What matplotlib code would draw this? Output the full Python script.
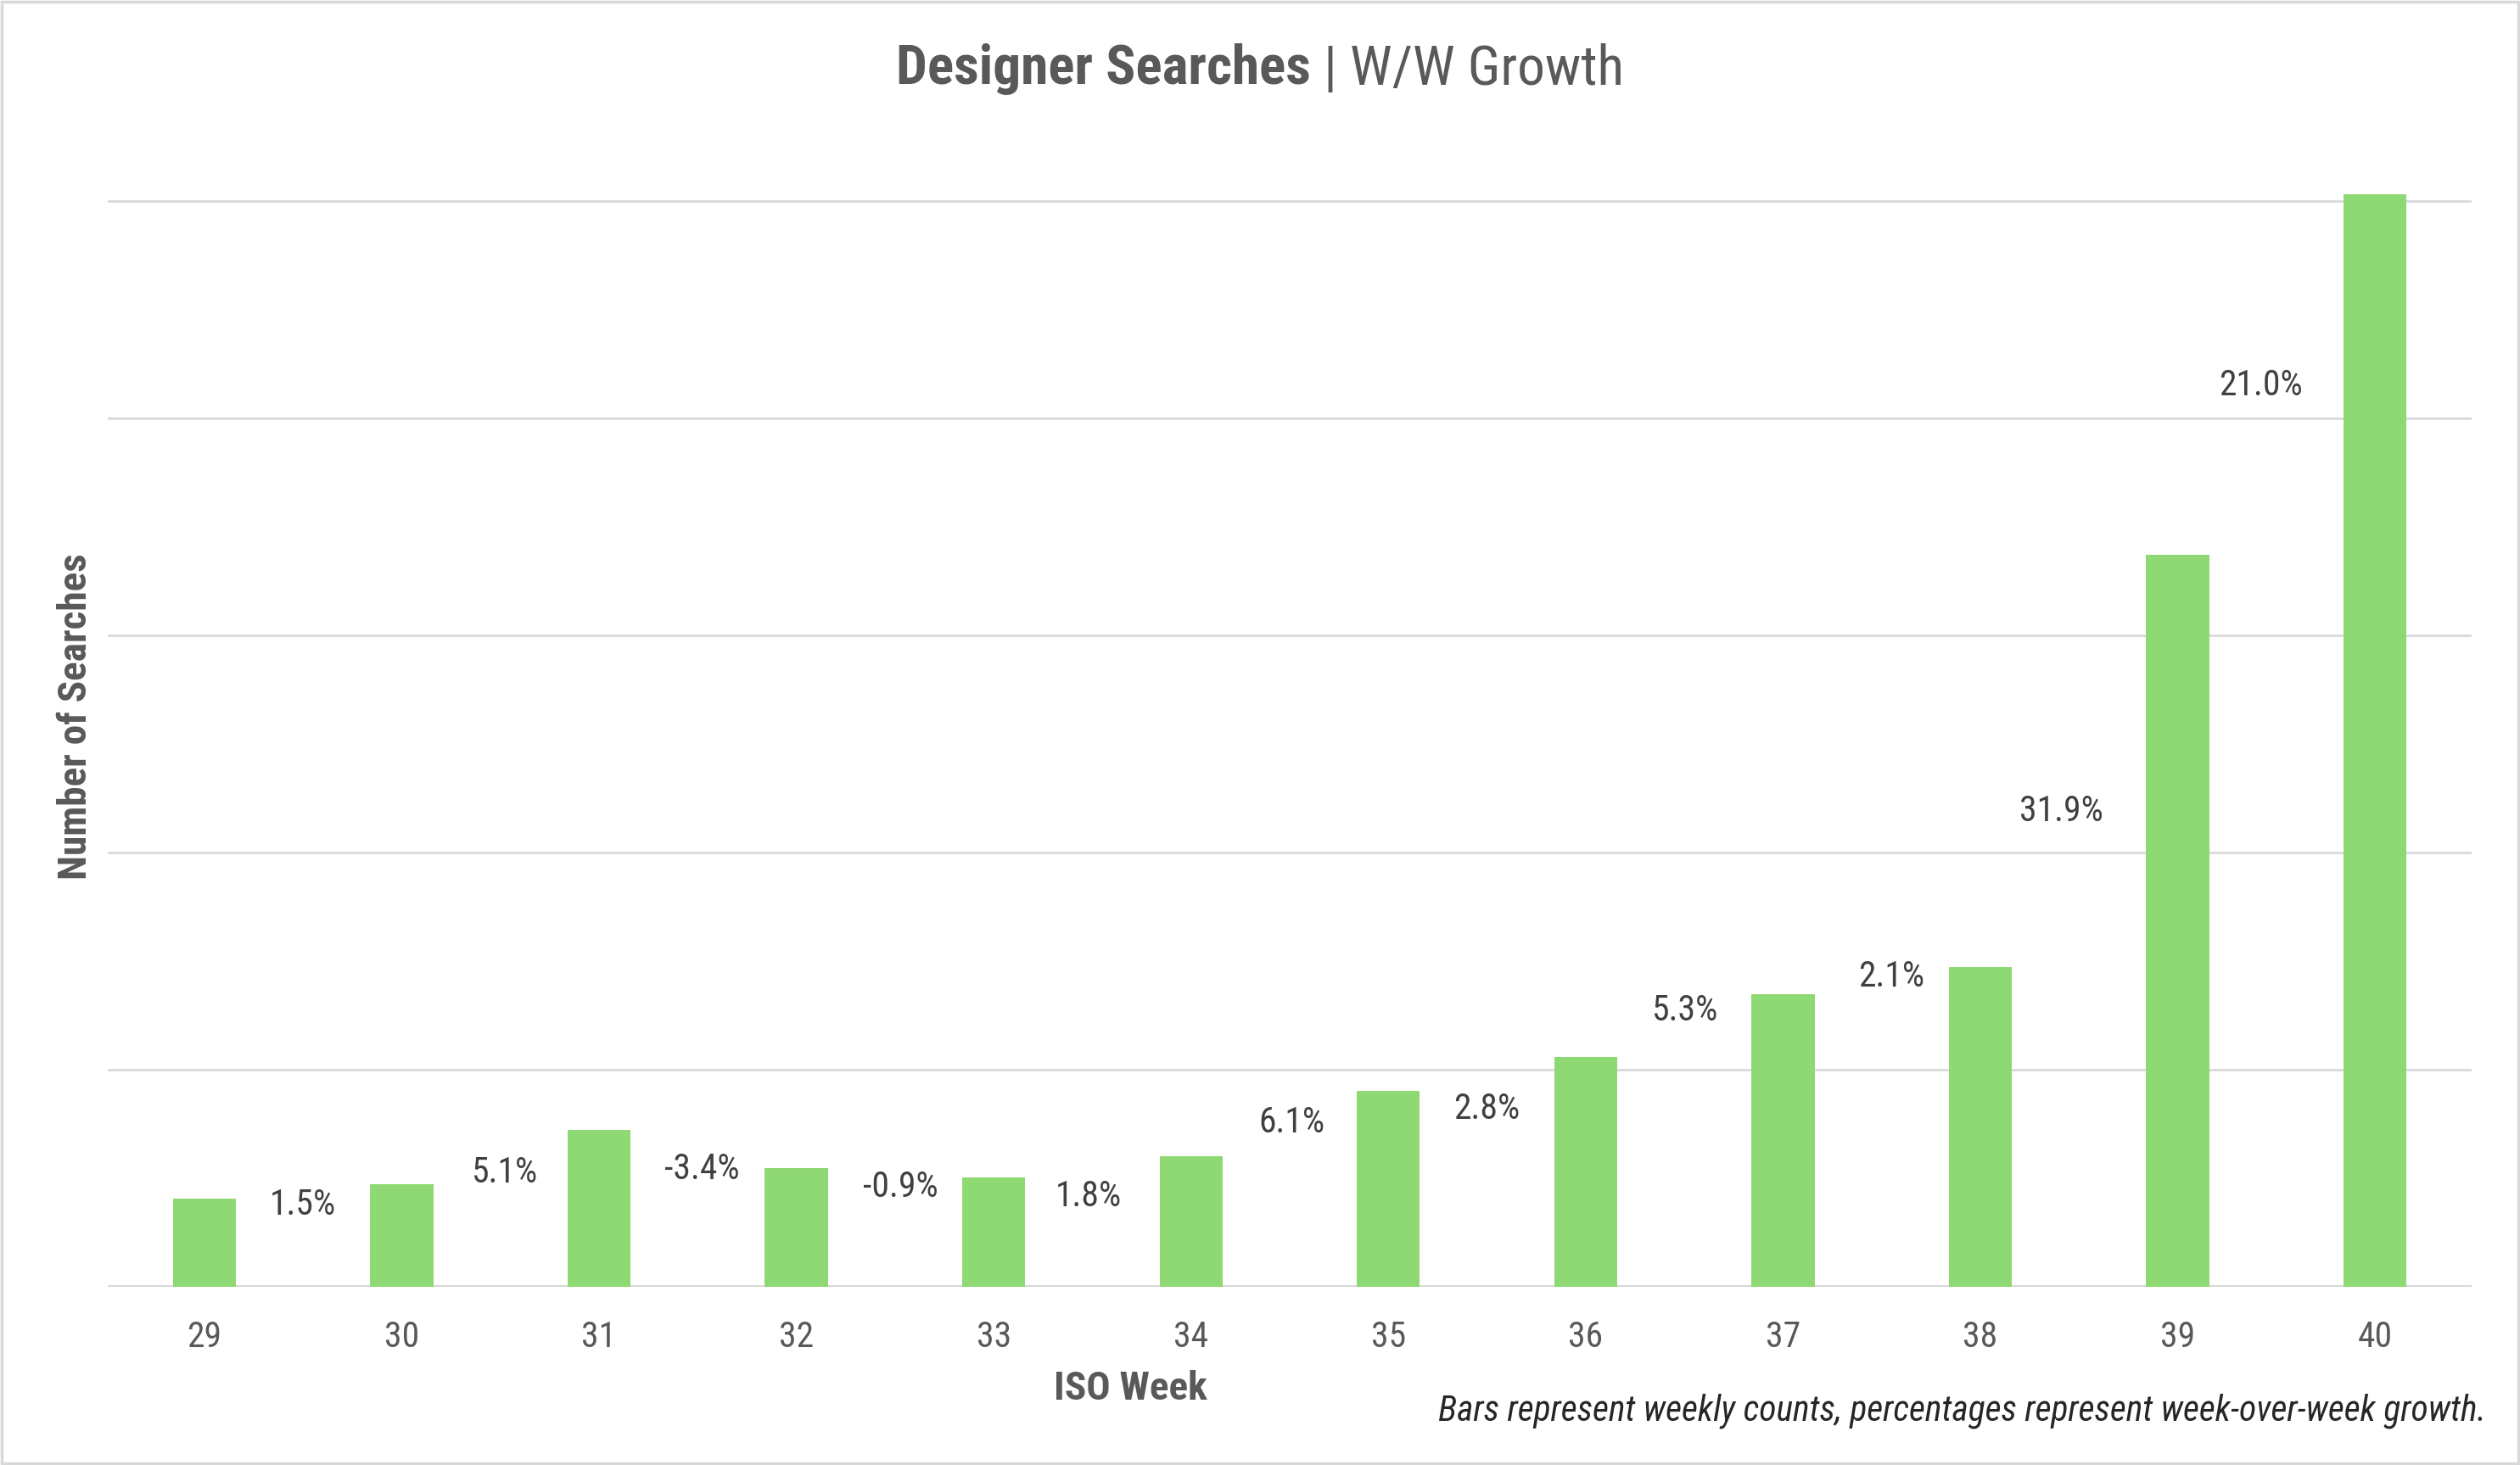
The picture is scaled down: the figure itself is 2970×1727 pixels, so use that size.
import matplotlib
matplotlib.use('Agg')
import matplotlib.pyplot as plt
from matplotlib import font_manager
from matplotlib.patches import Rectangle

# data (bar heights in arbitrary units, gridline step 500)
weeks = [29, 30, 31, 32, 33, 34, 35, 36, 37, 38, 39, 40]
searches = [204, 236, 362, 274, 251, 300, 451, 529, 673, 736, 1686, 2515]
growth = ['1.5%', '5.1%', '-3.4%', '-0.9%', '1.8%', '6.1%', '2.8%', '5.3%', '2.1%', '31.9%', '21.0%']
growth_x = [29.50, 30.52, 31.52, 32.53, 33.48, 34.51, 35.50, 36.50, 37.55, 38.41, 39.42]
growth_y = [188, 262, 270, 230, 207, 377, 410, 636, 714, 1095, 2075]

# pick a narrow sans that is installed
have = set(f.name for f in font_manager.fontManager.ttflist)
cands = ['Aptos Narrow', 'Roboto Condensed', 'Fira Sans Condensed', 'IBM Plex Sans Condensed',
         'Archivo Narrow', 'PT Sans Narrow', 'Liberation Sans Narrow', 'Liberation Sans']
narrow = next(c for c in cands if c in have)
plt.rcParams['font.family'] = [narrow, 'DejaVu Sans']

W, H = 2970, 1727
fig = plt.figure(figsize=(W / 100, H / 100), dpi=100)
ax = fig.add_axes([127 / W, 1 - 1517 / H, (2913 - 127) / W, (1517 - 224) / H])

ax.bar(weeks, searches, width=0.32, color='#8FD974', zorder=3)
for x, y, t in zip(growth_x, growth_y, growth):
    ax.text(x, y, t, ha='center', va='center', fontsize=30, color='#404040', zorder=4)

ax.set_xlim(28.51, 40.49)
ax.set_ylim(0, 2525)
ax.set_yticks([500, 1000, 1500, 2000, 2500])
ax.set_yticklabels([])
ax.grid(axis='y', color='#D9D9D9', linewidth=2, zorder=0)
ax.axhline(0, color='#D9D9D9', linewidth=3, zorder=2)
ax.tick_params(axis='y', length=0)
ax.tick_params(axis='x', length=0, labelsize=30, labelcolor='#595959', pad=28)
ax.set_xticks(weeks)
for s in ax.spines.values():
    s.set_visible(False)

fig.text(1332 / W, 1 - 1637 / H, 'ISO Week', ha='center', va='center',
         fontsize=34, fontweight='bold', color='#595959')
fig.text(89 / W, 1 - 845 / H, 'Number of Searches', ha='center', va='center',
         rotation=90, fontsize=34, fontweight='bold', color='#595959')
fig.text(2930 / W, 1 - 1663 / H, 'Bars represent weekly counts, percentages represent week-over-week growth.',
         ha='right', va='center', fontsize=30, style='italic', color='#262626')

# two-part title, centred as a whole
r = fig.canvas.get_renderer()
t1 = fig.text(0, 1 - 82 / H, 'Designer Searches', fontsize=47, fontweight='bold',
              color='#595959', va='center', ha='left')
t2 = fig.text(0, 1 - 82 / H, ' | W/W Growth', fontsize=47, color='#595959', va='center', ha='left')
w1 = t1.get_window_extent(r).width
w2 = t2.get_window_extent(r).width
x0 = 1485 - (w1 + w2) / 2
t1.set_x(x0 / W)
t2.set_x((x0 + w1) / W)

fig.patches.append(Rectangle((2 / W, 2 / H), 1 - 4 / W, 1 - 4 / H, transform=fig.transFigure,
                             fill=False, edgecolor='#D9D9D9', linewidth=2.5))

fig.savefig('out.png', dpi=100)
